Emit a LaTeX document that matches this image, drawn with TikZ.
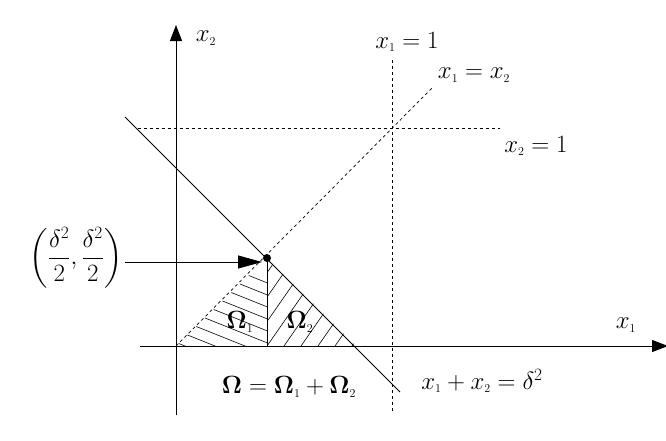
\documentclass[tikz,border=0pt]{standalone}
\usepackage{amsmath}
\usetikzlibrary{arrows.meta}
\begin{document}
\begin{tikzpicture}[x=1pt,y=-1pt,
  ax/.style={line width=1pt,-{Triangle[length=16pt,width=12pt]}},
  dsh/.style={dashed,line width=0.7pt},
  hl/.style={line width=0.6pt},
  lbl/.style={font=\fontsize{26}{30}\selectfont,inner sep=1pt}]
\useasboundingbox (0,0) rectangle (666,440);
\coordinate (O) at (176,346);
\coordinate (P) at (267,258);
\coordinate (F) at (267,346);
\coordinate (Q) at (356,346);
% hatching
\begin{scope}
\clip (O) -- (P) -- (F) -- cycle;
\foreach \i in {-2,...,14} \draw[hl] (150,260+12*\i) -- ++(150,60);
\end{scope}
\begin{scope}
\clip (P) -- (Q) -- (F) -- cycle;
\foreach \i in {-8,...,6} \draw[hl] (267+17*\i,346) -- ++(80,-115);
\end{scope}
\draw[hl] (P) -- (F);
% axes
\draw[ax] (140,346) -- (668,346);
\draw[ax] (176,415) -- (176,25);
% lines
\draw[line width=0.8pt] (125,117) -- (400,392);
\draw[dsh] (O) -- (432,88);
\draw[dsh] (392,60) -- (392,412);
\draw[dsh] (138,128) -- (500,128);
\fill (P) circle (4pt);
\node[lbl] (pt) at (76,258) {$\left(\dfrac{\delta^2}{2},\dfrac{\delta^2}{2}\right)$};
\draw[line width=0.8pt,-{Triangle[length=24pt,width=13pt]}] (125,262) -- (262,262);
\node[lbl] (x2) at (206,38) {$x_{\scriptscriptstyle 2}$};
\node[lbl] (x1) at (626,325) {$x_{\scriptscriptstyle 1}$};
\node[lbl] (l1) at (407,42) {$x_{\scriptscriptstyle 1}=1$};
\node[lbl] (l2) at (474,75) {$x_{\scriptscriptstyle 1}=x_{\scriptscriptstyle 2}$};
\node[lbl] (l3) at (536,146) {$x_{\scriptscriptstyle 2}=1$};
\node[lbl] (l4) at (482,381) {$x_{\scriptscriptstyle 1}+x_{\scriptscriptstyle 2}=\delta^2$};
\node[lbl] (w1) at (240,322) {$\mathbf{\Omega}_{\scriptscriptstyle 1}$};
\node[lbl] (w2) at (300,322) {$\mathbf{\Omega}_{\scriptscriptstyle 2}$};
\node[lbl] (w) at (289,387) {$\mathbf{\Omega}=\mathbf{\Omega}_{\scriptscriptstyle 1}+\mathbf{\Omega}_{\scriptscriptstyle 2}$};
\end{tikzpicture}
\end{document}
